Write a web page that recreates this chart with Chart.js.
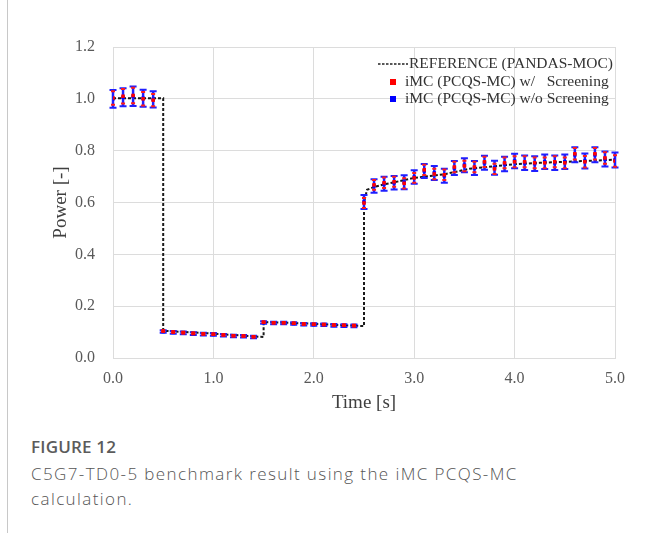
<!DOCTYPE html>
<html>
<head>
<meta charset="utf-8">
<script src="https://cdn.jsdelivr.net/npm/chart.js@4/dist/chart.umd.min.js"></script>
<style>
  html,body{margin:0;padding:0;background:#fff;width:660px;height:533px;overflow:hidden;}
  #wrap{position:absolute;left:0;top:0;width:660px;height:420px;}
  #bar{position:absolute;left:7px;top:0;width:1px;height:533px;background:#c8c8c8;}
  #cap{position:absolute;left:31px;top:435px;width:620px;font-family:"Open Sans",sans-serif;color:#555;}
  #cap .t{font-size:17px;font-weight:600;color:#5b5b5b;letter-spacing:0.2px;line-height:24px;}
  #cap .d{font-size:17px;font-weight:300;line-height:25px;color:#555;letter-spacing:1.4px;margin-top:2px;}
</style>
</head>
<body>
<div id="bar"></div>
<div id="wrap"><canvas id="c"></canvas></div>
<div id="cap">
  <div class="t">FIGURE 12</div>
  <div class="d">C5G7-TD0-5 benchmark result using the iMC PCQS-MC<br>calculation.</div>
</div>
<script>
// ---- data ----
const times = [0.0,0.1,0.2,0.3,0.4,0.5,0.6,0.7,0.8,0.9,1.0,1.1,1.2,1.3,1.4,1.5,1.6,1.7,1.8,1.9,2.0,2.1,2.2,2.3,2.4,2.5,2.6,2.7,2.8,2.9,3.0,3.1,3.2,3.3,3.4,3.5,3.6,3.7,3.8,3.9,4.0,4.1,4.2,4.3,4.4,4.5,4.6,4.7,4.8,4.9,5.0];
const powerWithScreening = [1.003,1.010,1.013,1.000,0.995,0.104,0.100,0.098,0.095,0.093,0.092,0.089,0.086,0.085,0.082,0.138,0.136,0.136,0.134,0.131,0.130,0.129,0.127,0.126,0.125,0.598,0.668,0.676,0.680,0.674,0.695,0.726,0.710,0.707,0.737,0.741,0.737,0.757,0.730,0.753,0.757,0.757,0.753,0.753,0.757,0.753,0.788,0.757,0.788,0.772,0.760];
const powerWithoutScreening = [1.000,1.006,1.010,1.002,0.998,0.102,0.099,0.097,0.094,0.092,0.091,0.088,0.085,0.084,0.081,0.137,0.135,0.135,0.133,0.130,0.129,0.128,0.126,0.125,0.124,0.602,0.664,0.672,0.676,0.678,0.698,0.722,0.714,0.703,0.733,0.744,0.733,0.753,0.734,0.749,0.760,0.753,0.750,0.757,0.753,0.757,0.784,0.760,0.784,0.768,0.764];
const errWithScreening = [0.026,0.028,0.030,0.026,0.024,0.003,0.003,0.003,0.003,0.003,0.003,0.003,0.003,0.003,0.003,0.003,0.003,0.003,0.003,0.003,0.003,0.003,0.003,0.003,0.003,0.019,0.019,0.020,0.019,0.020,0.019,0.020,0.020,0.020,0.020,0.020,0.020,0.020,0.020,0.021,0.021,0.021,0.021,0.021,0.021,0.021,0.022,0.022,0.022,0.022,0.022];
const errWithoutScreening = [0.034,0.035,0.038,0.033,0.031,0.005,0.005,0.005,0.005,0.005,0.005,0.005,0.005,0.005,0.005,0.005,0.005,0.005,0.005,0.005,0.005,0.005,0.005,0.005,0.005,0.027,0.026,0.027,0.026,0.027,0.026,0.027,0.027,0.027,0.027,0.027,0.027,0.027,0.027,0.028,0.028,0.028,0.028,0.028,0.028,0.028,0.029,0.029,0.029,0.029,0.029];
const refTimes = [0.0,0.5,0.5,1.0,1.5,1.5,2.0,2.5,2.5,2.53,2.6,2.7,2.8,3.0,3.3,3.55,3.8,4.0,4.25,4.5,4.75,5.0];
const refPower = [1.002,1.002,0.105,0.094,0.081,0.139,0.132,0.123,0.600,0.649,0.660,0.670,0.678,0.695,0.709,0.730,0.740,0.748,0.753,0.757,0.761,0.765];
const xTicks = ['0.0','1.0','2.0','3.0','4.0','5.0'];
const yTicks = ['0.0','0.2','0.4','0.6','0.8','1.0','1.2'];
const seriesLabels = ['REFERENCE (PANDAS-MOC)','iMC (PCQS-MC) w/   Screening','iMC (PCQS-MC) w/o Screening'];

const pts = (xs, ys) => xs.map((x,i)=>({x:x,y:ys[i]}));

const errorBars = {
  id:'errorBars',
  beforeDatasetDraw(chart, args){
    const ds = chart.data.datasets[args.index];
    if(!ds.errors) return;
    const ctx = chart.ctx, xs = chart.scales.x, ys = chart.scales.y;
    ctx.save();
    ctx.strokeStyle = ds.errColor;
    ds.data.forEach((p,i)=>{
      const e = ds.errors[i];
      const px = xs.getPixelForValue(p.x);
      const y1 = ys.getPixelForValue(p.y + e), y2 = ys.getPixelForValue(p.y - e);
      if(ds.errStem){
        ctx.lineWidth = ds.errWidth;
        ctx.beginPath(); ctx.moveTo(px,y1); ctx.lineTo(px,y2); ctx.stroke();
      }
      ctx.lineWidth = ds.capWidth;
      ctx.beginPath();
      ctx.moveTo(px-ds.capHalf,y1); ctx.lineTo(px+ds.capHalf,y1);
      ctx.moveTo(px-ds.capHalf,y2); ctx.lineTo(px+ds.capHalf,y2);
      ctx.stroke();
    });
    ctx.restore();
  }
};

const inLegend = {
  id:'inLegend',
  afterDraw(chart){
    const ctx = chart.ctx;
    ctx.save();
    ctx.font = '15.5px "Liberation Serif", "Times New Roman", serif';
    ctx.fillStyle = '#333';
    ctx.textBaseline = 'middle';
    ctx.textAlign = 'left';
    ctx.strokeStyle = '#222'; ctx.lineWidth = 1.5; ctx.setLineDash([2.5,1.5]);
    ctx.beginPath(); ctx.moveTo(378,64); ctx.lineTo(408,64); ctx.stroke();
    ctx.setLineDash([]);
    ctx.fillText(chart.data.datasets[0].label, 409, 64);
    ctx.fillStyle = '#ff0000'; ctx.fillRect(390,79,6,6);
    ctx.fillStyle = '#333';
    ctx.fillText(chart.data.datasets[1].label, 405, 82);
    ctx.fillStyle = '#0000ff'; ctx.fillRect(390,96,6,6);
    ctx.fillStyle = '#333';
    ctx.fillText(chart.data.datasets[2].label, 405, 99);
    ctx.restore();
  }
};

new Chart(document.getElementById('c'), {
  type:'scatter',
  data:{
    datasets:[
      {type:'line', label:seriesLabels[0], data:pts(refTimes, refPower), borderColor:'#1a1a1a', borderWidth:2, borderDash:[3,2], pointRadius:0, fill:false, tension:0, order:2},
      {label:seriesLabels[1], data:pts(times, powerWithScreening), errors:errWithScreening, errColor:'#ff1a1a', errStem:false, errWidth:1, capWidth:2, capHalf:2, pointStyle:'rect', pointRadius:2.5, backgroundColor:'#ff0000', borderColor:'#ff0000', borderWidth:0, order:0},
      {label:seriesLabels[2], data:pts(times, powerWithoutScreening), errors:errWithoutScreening, errColor:'#1f1fff', errStem:true, errWidth:2.5, capWidth:2, capHalf:3.5, pointStyle:'rect', pointRadius:2.5, backgroundColor:'#0000ff', borderColor:'#0000ff', borderWidth:0, order:1}
    ]
  },
  options:{
    responsive:true, maintainAspectRatio:false, animation:false,
    layout:{padding:{left:40, top:47, right:45, bottom:0}},
    plugins:{legend:{display:false}, tooltip:{enabled:false}},
    scales:{
      x:{type:'linear', min:0, max:5,
        afterFit(s){ s.height = 62; },
        afterBuildTicks(s){ s.ticks = xTicks.map(v=>({value:parseFloat(v)})); },
        ticks:{callback:(v)=>xTicks.find(t=>parseFloat(t)===v), font:{family:'"Liberation Serif", serif', size:16}, color:'#595959', padding:11, maxRotation:0},
        grid:{color:'#dcdcdc', lineWidth:1, drawTicks:false},
        border:{color:'#dcdcdc'},
        title:{display:true, text:'Time [s]', font:{family:'"Liberation Serif", serif', size:19}, color:'#404040', padding:{top:2,bottom:6}}
      },
      y:{type:'linear', min:0, max:1.2,
        afterFit(s){ s.width = 73; },
        afterBuildTicks(s){ s.ticks = yTicks.map(v=>({value:parseFloat(v)})); },
        ticks:{callback:(v)=>yTicks.find(t=>Math.abs(parseFloat(t)-v)<1e-9), font:{family:'"Liberation Serif", serif', size:16}, color:'#595959', padding:18},
        grid:{color:'#dcdcdc', lineWidth:1, drawTicks:false},
        border:{color:'#dcdcdc'},
        title:{display:true, text:'Power [-]', font:{family:'"Liberation Serif", serif', size:19}, color:'#404040', padding:{top:10,bottom:10}}
      }
    }
  },
  plugins:[errorBars, inLegend]
});
</script>
</body>
</html>
